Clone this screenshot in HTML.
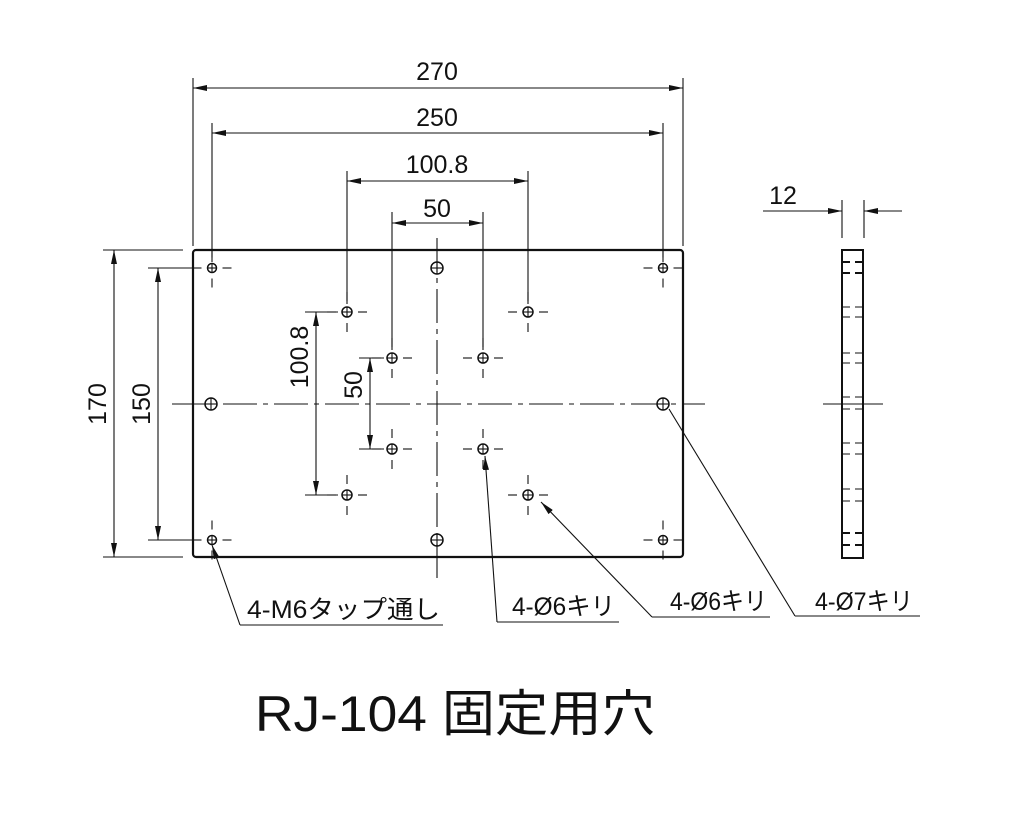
<!DOCTYPE html>
<html><head><meta charset="utf-8"><style>
html,body{margin:0;padding:0;background:#fff;}
svg{display:block;}
text{font-family:"Liberation Sans","Noto Sans CJK JP",sans-serif;fill:#111;}
</style></head><body>
<svg id="s" width="1024" height="817" viewBox="0 0 1024 817" xmlns="http://www.w3.org/2000/svg">
<defs>
<marker id="a" viewBox="0 0 14 6" refX="14" refY="3" markerWidth="14" markerHeight="6" markerUnits="userSpaceOnUse" orient="auto-start-reverse"><path d="M0,0 L14,3 L0,6 z" fill="#111"/></marker>
</defs>
<g stroke="#111" fill="none" stroke-width="1.1">
<rect x="193" y="250" width="490" height="307" rx="3" stroke-width="2.2"/>
<line x1="172" y1="404" x2="705" y2="404" stroke-dasharray="34 6 5 6"/>
<line x1="437" y1="238" x2="437" y2="578" stroke-dasharray="34 6 5 6"/>
<line x1="193" y1="78" x2="193" y2="246"/><line x1="683" y1="78" x2="683" y2="246"/>
<line x1="193" y1="88" x2="683" y2="88" marker-start="url(#a)" marker-end="url(#a)"/>
<line x1="212" y1="123" x2="212" y2="262"/><line x1="663" y1="123" x2="663" y2="262"/>
<line x1="212" y1="133" x2="663" y2="133" marker-start="url(#a)" marker-end="url(#a)"/>
<line x1="347" y1="171" x2="347" y2="304"/><line x1="528" y1="171" x2="528" y2="304"/>
<line x1="347" y1="181" x2="528" y2="181" marker-start="url(#a)" marker-end="url(#a)"/>
<line x1="392" y1="212" x2="392" y2="350"/><line x1="483" y1="212" x2="483" y2="350"/>
<line x1="392" y1="223" x2="483" y2="223" marker-start="url(#a)" marker-end="url(#a)"/>
<line x1="103" y1="250" x2="183" y2="250"/><line x1="103" y1="557" x2="183" y2="557"/>
<line x1="114" y1="250" x2="114" y2="557" marker-start="url(#a)" marker-end="url(#a)"/>
<line x1="148" y1="268" x2="192" y2="268"/><line x1="148" y1="540" x2="192" y2="540"/>
<line x1="158" y1="268" x2="158" y2="540" marker-start="url(#a)" marker-end="url(#a)"/>
<line x1="305" y1="312" x2="338" y2="312"/><line x1="305" y1="495" x2="338" y2="495"/>
<line x1="316" y1="312" x2="316" y2="495" marker-start="url(#a)" marker-end="url(#a)"/>
<line x1="359" y1="358" x2="384" y2="358"/><line x1="359" y1="449" x2="384" y2="449"/>
<line x1="370" y1="358" x2="370" y2="449" marker-start="url(#a)" marker-end="url(#a)"/>
<rect x="842" y="250" width="21" height="308" stroke-width="2"/>
<line x1="823" y1="404" x2="883" y2="404"/>
<line x1="842" y1="200" x2="842" y2="238"/><line x1="864" y1="200" x2="864" y2="238"/>
<line x1="763" y1="211" x2="842" y2="211" marker-end="url(#a)"/>
<line x1="902" y1="211" x2="864" y2="211" marker-end="url(#a)"/>
<g id="sd"></g>
<polyline points="240,625 443,625"/><line x1="240" y1="625" x2="212" y2="545" marker-end="url(#a)"/>
<polyline points="497,622 619,622"/><line x1="497" y1="622" x2="485" y2="456" marker-end="url(#a)"/>
<polyline points="652,617 770,617"/><line x1="652" y1="617" x2="541" y2="502" marker-end="url(#a)"/>
<polyline points="795,616 920,616"/><line x1="795" y1="616" x2="669" y2="409"/>
<g id="h"></g>
</g>
<g font-size="25" text-anchor="middle">
<text x="437" y="80">270</text>
<text x="437" y="126">250</text>
<text x="437" y="173">100.8</text>
<text x="437" y="217">50</text>
<text x="783" y="204">12</text>
<text transform="translate(106,404) rotate(-90)">170</text>
<text transform="translate(150,404) rotate(-90)">150</text>
<text transform="translate(308,357) rotate(-90)">100.8</text>
<text transform="translate(362,385) rotate(-90)">50</text>
</g>
<g font-size="25">
<text x="247" y="618" textLength="193" lengthAdjust="spacingAndGlyphs">4-M6タップ通し</text>
<text x="512" y="615" textLength="103" lengthAdjust="spacingAndGlyphs">4-Ø6キリ</text>
<text x="670" y="610" textLength="97" lengthAdjust="spacingAndGlyphs">4-Ø6キリ</text>
<text x="815" y="610" textLength="98" lengthAdjust="spacingAndGlyphs">4-Ø7キリ</text>
</g>
<text x="255" y="731" font-size="50" textLength="400" lengthAdjust="spacingAndGlyphs">RJ-104 固定用穴</text>
<script>
var ns="http://www.w3.org/2000/svg",g=document.getElementById("h"),sd=document.getElementById("sd");
function el(p,t,a){var e=document.createElementNS(ns,t);for(var k in a)e.setAttribute(k,a[k]);p.appendChild(e);}
var H=[[212,268,4.5,1],[663,268,4.5,1],[212,540,4.5,1],[663,540,4.5,1],[437,268,6,0],[437,540,6,0],[211,404,6,0],[663,404,6,0],
[347,312,5,1],[528,312,5,1],[347,495,5,1],[528,495,5,1],[392,358,5,1],[483,358,5,1],[392,449,5,1],[483,449,5,1]];
H.forEach(function(h){var x=h[0],y=h[1],r=h[2];
el(g,"circle",{cx:x,cy:y,r:r,"stroke-width":1.5});
el(g,"line",{x1:x-r,y1:y,x2:x+r,y2:y});el(g,"line",{x1:x,y1:y-r,x2:x,y2:y+r});
if(h[3]){var d=r+6,L=9;
el(g,"line",{x1:x-d-L,y1:y,x2:x-d,y2:y});el(g,"line",{x1:x+d,y1:y,x2:x+d+L,y2:y});
el(g,"line",{x1:x,y1:y-d-L,x2:x,y2:y-d});el(g,"line",{x1:x,y1:y+d,x2:x,y2:y+d+L});}
});
[[262,273,2],[307,317,1],[353,363,1],[397,409,1],[443,454,1],[489,501,1],[533,545,2]].forEach(function(p){
[p[0],p[1]].forEach(function(y){el(sd,"line",{x1:842,y1:y,x2:863,y2:y,"stroke-dasharray":"8 5","stroke-width":p[2]});});});
</script>
</svg>
</body></html>
